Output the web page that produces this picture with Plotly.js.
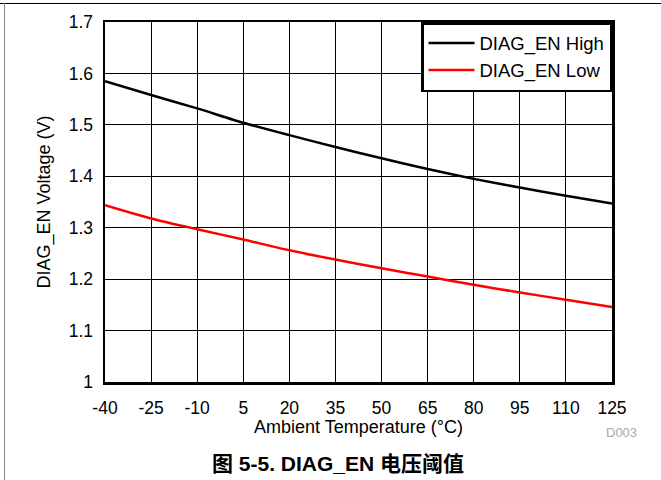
<!DOCTYPE html>
<html>
<head>
<meta charset="utf-8">
<script src="https://cdn.plot.ly/plotly-3.0.1.min.js"></script>
<style>
  html, body { margin: 0; padding: 0; background: #fff; }
  #wrap { position: relative; width: 661px; height: 480px; overflow: hidden; }
  #frameTop { position: absolute; left: 0; top: 3px; width: 661px; height: 0; border-top: 1.5px solid #000; }
  #frameLeft { position: absolute; left: 4px; top: 3px; width: 0; height: 480px; border-left: 1.5px solid #888; }
  #chart { position: absolute; left: 0; top: 0; width: 661px; height: 480px; }
</style>
</head>
<body>
<div id="wrap">
  <div id="chart"></div>
  <div id="frameTop"></div>
  <div id="frameLeft"></div>
</div>
<script>
// Data
const temperature = [-40, -25, -10, 5, 20, 35, 50, 65, 80, 95, 110, 125];
const diagEnHigh  = [1.585, 1.558, 1.532, 1.504, 1.480, 1.457, 1.435, 1.414, 1.395, 1.378, 1.362, 1.347];
const diagEnLow   = [1.344, 1.318, 1.297, 1.277, 1.256, 1.238, 1.221, 1.205, 1.189, 1.174, 1.160, 1.146];
const xTickVals   = [-40, -25, -10, 5, 20, 35, 50, 65, 80, 95, 110, 125];
const xTickText   = ['-40', '-25', '-10', '5', '20', '35', '50', '65', '80', '95', '110', '125'];
const yTickVals   = [1, 1.1, 1.2, 1.3, 1.4, 1.5, 1.6, 1.7];
const yTickText   = ['1', '1.1', '1.2', '1.3', '1.4', '1.5', '1.6', '1.7'];
const seriesNames = ['DIAG_EN High', 'DIAG_EN Low'];
const captionText = '图 5-5. DIAG_EN 电压阈值';
const figureId    = 'D003';

const FONT = 'Liberation Sans, Arial, Helvetica, sans-serif';

const traces = [
  { x: temperature, y: diagEnHigh, name: seriesNames[0], mode: 'lines',
    line: { color: '#000000', width: 2.5, shape: 'spline', smoothing: 0.6 } },
  { x: temperature, y: diagEnLow, name: seriesNames[1], mode: 'lines',
    line: { color: '#ff0000', width: 2.5, shape: 'spline', smoothing: 0.6 } }
];

const layout = {
  width: 661, height: 480,
  margin: { l: 105, r: 49, t: 22, b: 98 },
  paper_bgcolor: 'rgba(0,0,0,0)',
  plot_bgcolor: '#ffffff',
  font: { family: FONT, size: 17, color: '#000' },
  showlegend: true,
  legend: {
    x: 1, xanchor: 'right', y: 1, yanchor: 'top',
    bgcolor: '#ffffff', bordercolor: '#000', borderwidth: 2.5,
    font: { family: FONT, size: 18.5, color: '#000' },
    itemwidth: 46,
    tracegroupgap: 0
  },
  xaxis: {
    range: [-40, 125], tickmode: 'array', tickvals: xTickVals, ticktext: xTickText,
    ticks: '', ticklabelstandoff: 8,
    showgrid: true, gridcolor: '#000', gridwidth: 1,
    zeroline: false, showline: true, linecolor: '#000', linewidth: 2.5, mirror: true,
    tickfont: { family: FONT, size: 17.5 },
    title: { text: 'Ambient Temperature (°C)', font: { family: FONT, size: 18 }, standoff: 4 }
  },
  yaxis: {
    range: [1, 1.7], tickmode: 'array', tickvals: yTickVals, ticktext: yTickText,
    ticks: '', ticklabelstandoff: 6,
    showgrid: true, gridcolor: '#000', gridwidth: 1,
    zeroline: false, showline: true, linecolor: '#000', linewidth: 2.5, mirror: true,
    tickfont: { family: FONT, size: 17.5 },
    title: { text: 'DIAG_EN Voltage (V)', font: { family: FONT, size: 18 }, standoff: 14 }
  },
  annotations: [
    { text: figureId, xref: 'paper', yref: 'paper', x: 1.053, y: -0.14,
      xanchor: 'right', yanchor: 'middle', showarrow: false,
      font: { family: FONT, size: 13, color: '#aaaaaa' } },
    { text: '<b>' + captionText + '</b>', xref: 'paper', yref: 'paper', x: 0.46, y: -0.225,
      xanchor: 'center', yanchor: 'middle', showarrow: false,
      font: { family: 'Liberation Sans, Noto Sans CJK SC, sans-serif', size: 21, color: '#000' } }
  ]
};

Plotly.newPlot('chart', traces, layout, { staticPlot: true, displayModeBar: false });
</script>
</body>
</html>
